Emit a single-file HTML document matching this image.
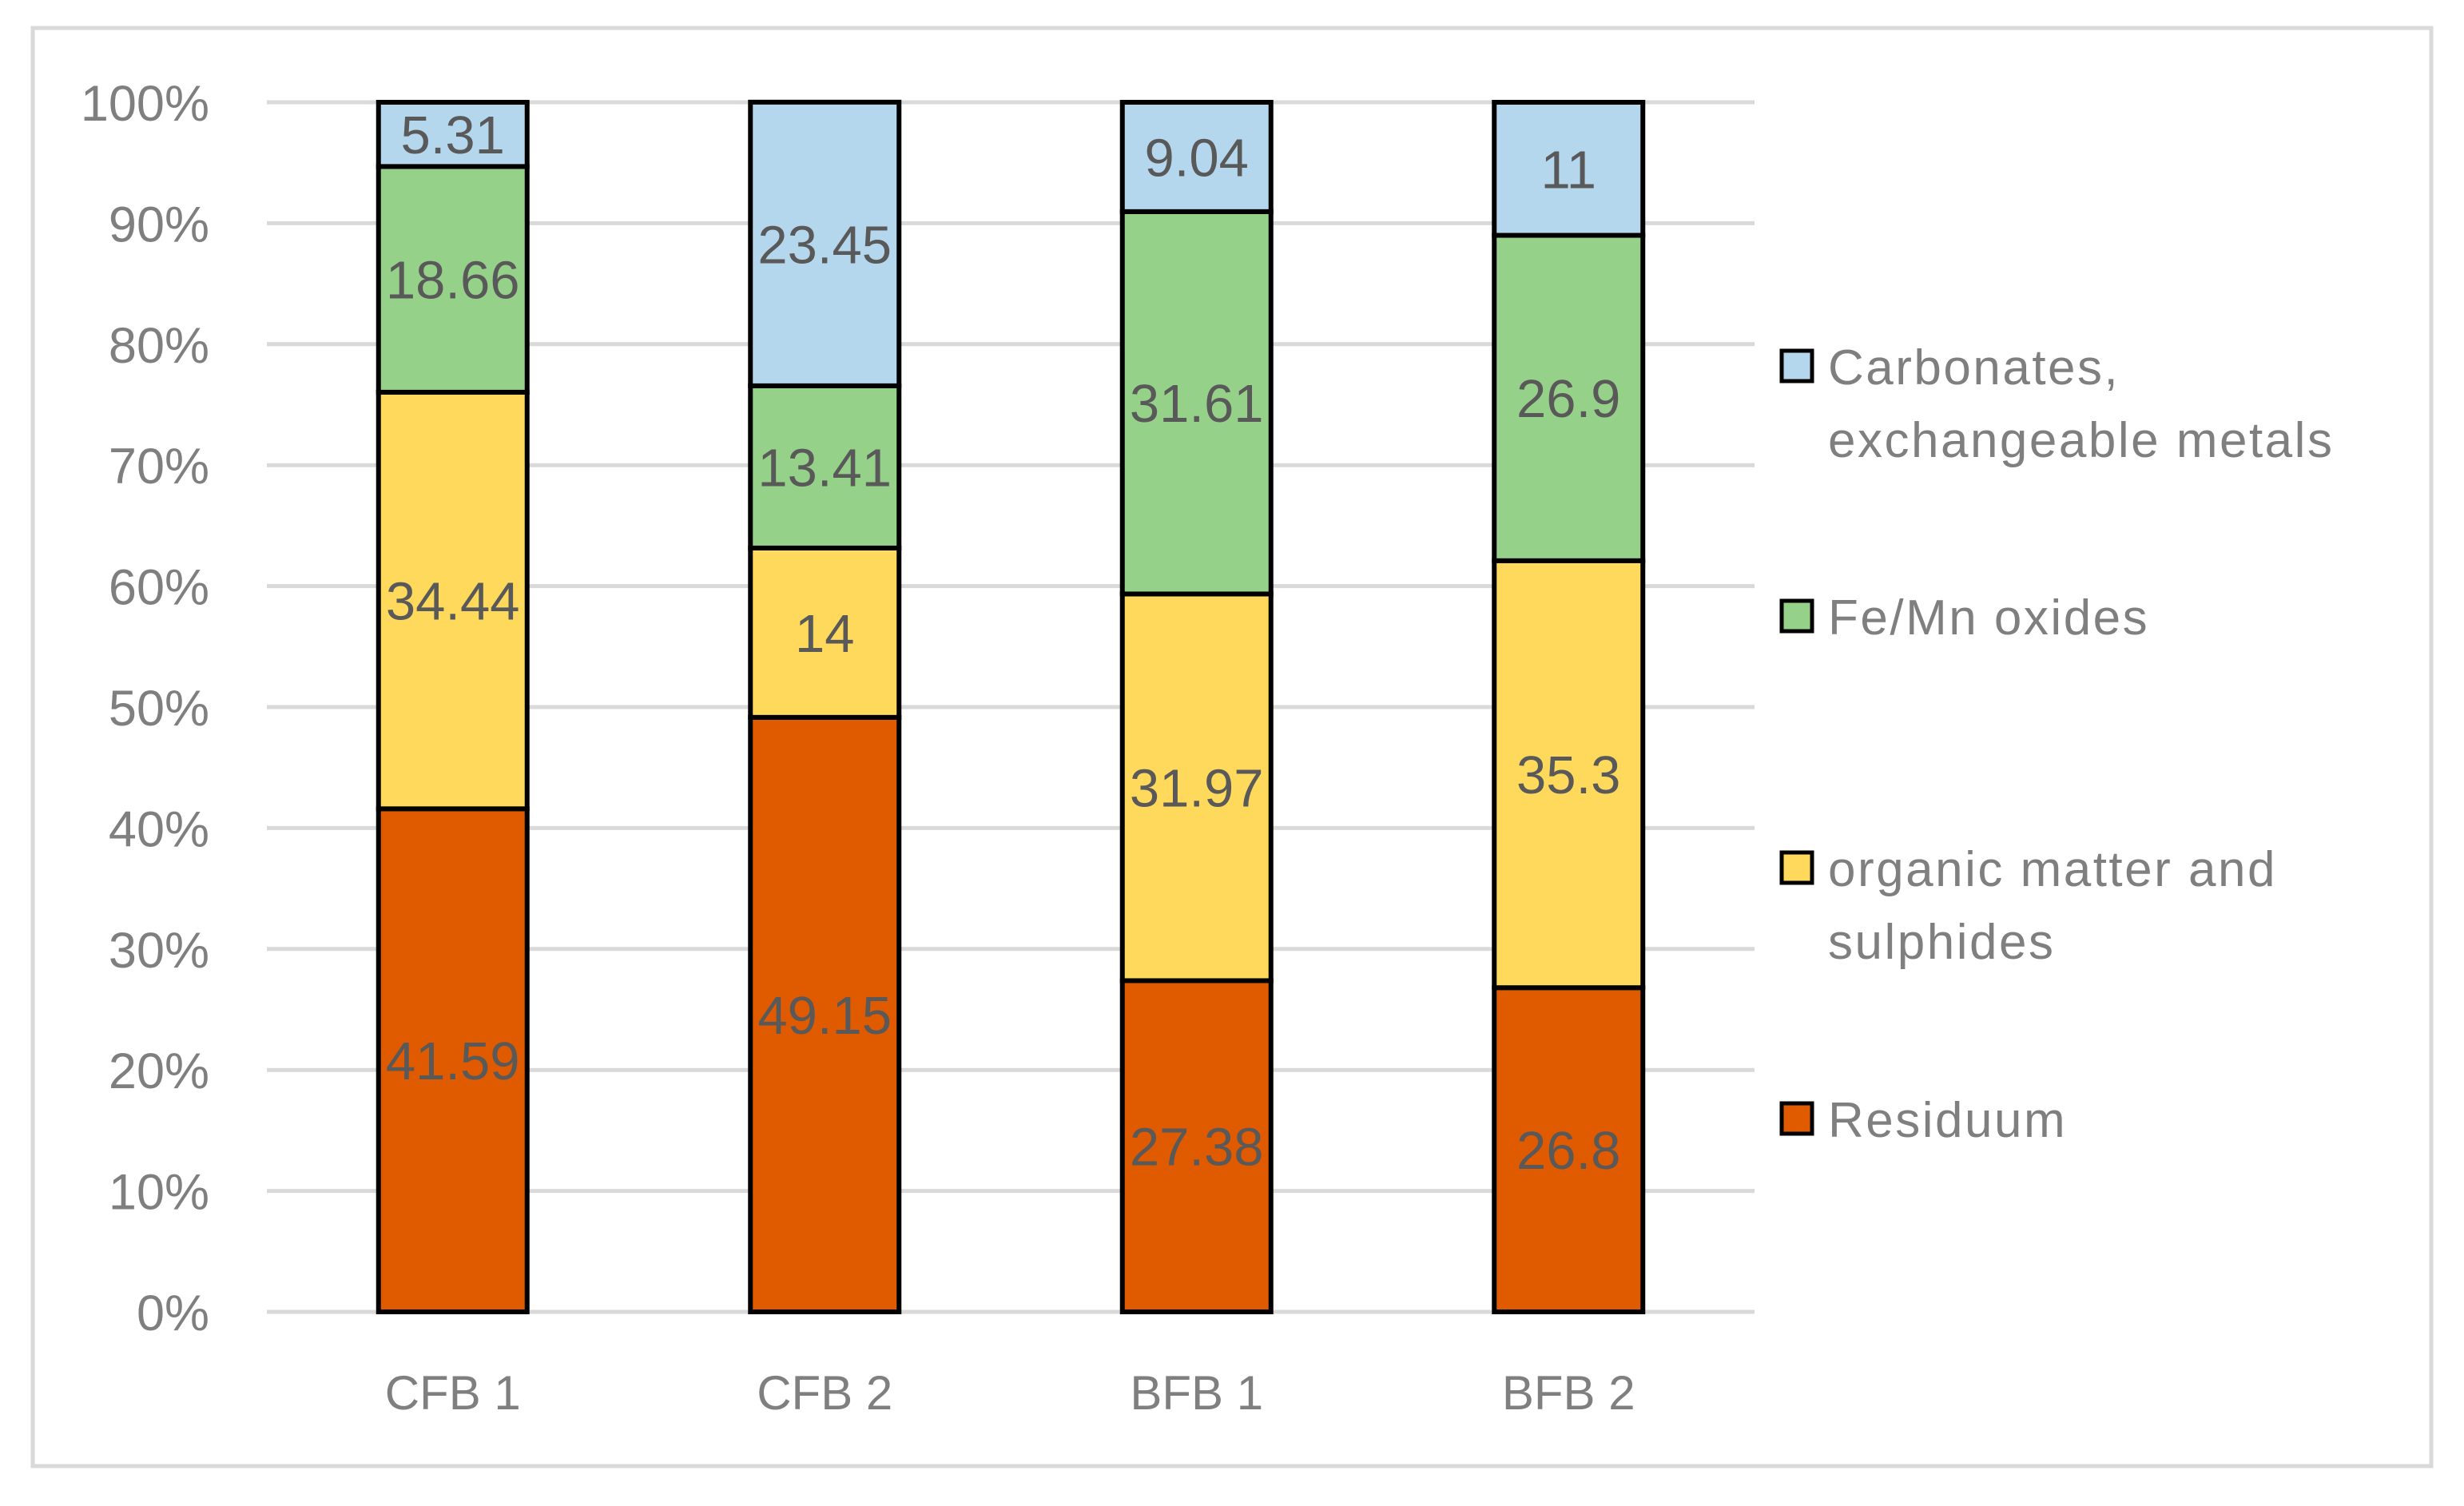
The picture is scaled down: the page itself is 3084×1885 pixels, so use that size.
<!DOCTYPE html>
<html><head><meta charset="utf-8">
<style>
html,body{margin:0;padding:0;background:#fff;}
svg{display:block;}
text{font-family:"Liberation Sans",sans-serif;}
</style></head>
<body>
<svg id="chart" width="3084" height="1885" viewBox="0 0 3084 1885" xmlns="http://www.w3.org/2000/svg">
<rect x="0" y="0" width="3084" height="1885" fill="#fff"/>
<rect x="41" y="35" width="3002" height="1800" fill="none" stroke="#d9d9d9" stroke-width="5"/>
<g id="grid"></g>
<g id="yticks"></g>
<g id="bars"></g>
<g id="xticks"></g>
<g id="legend"></g>
</svg>
<script>
const categories = ["CFB 1", "CFB 2", "BFB 1", "BFB 2"];
const residuum = [41.59, 49.15, 27.38, 26.8];
const organic = [34.44, 14, 31.97, 35.3];
const feMn = [18.66, 13.41, 31.61, 26.9];
const carbonates = [5.31, 23.45, 9.04, 11];
const yTicks = [0, 10, 20, 30, 40, 50, 60, 70, 80, 90, 100];
const seriesNames = ["Residuum", "organic matter and sulphides", "Fe/Mn oxides", "Carbonates, exchangeable metals"];

const NS = "http://www.w3.org/2000/svg";
const plotL = 334, plotR = 2196, y0 = 1642, y100 = 128;
const yScale = v => y0 - (v / 100) * (y0 - y100);
const band = (plotR - plotL) / categories.length;
const xCenter = i => plotL + band * (i + 0.5);
const barW = 186;
const colors = ["#e05a00", "#fed95b", "#96d18a", "#b4d7ee"];
const series = [residuum, organic, feMn, carbonates];

function mk(tag, attrs, parent) {
  const e = document.createElementNS(NS, tag);
  for (const k in attrs) e.setAttribute(k, attrs[k]);
  parent.appendChild(e);
  return e;
}

const grid = document.getElementById('grid');
const yt = document.getElementById('yticks');
yTicks.forEach(t => {
  const y = yScale(t);
  const l = mk('line', {x1: plotL, x2: plotR, y1: y, y2: y, stroke: '#d9d9d9', 'stroke-width': 5}, grid);
  
  
  const tx = mk('text', {x: 262, y: y + 23, 'text-anchor': 'end', 'font-size': 63, fill: '#7f7f7f'}, yt);
  tx.textContent = t + '%';
  
  
});

const bars = document.getElementById('bars');
const xt = document.getElementById('xticks');
categories.forEach((c, i) => {
  let cum = 0;
  const cx = xCenter(i);
  series.forEach((s, k) => {
    const v = s[i];
    const yTop = yScale(cum + v), yBot = yScale(cum);
    const r = mk('rect', {x: cx - barW / 2, y: yTop, width: barW, height: yBot - yTop, fill: colors[k], stroke: '#000', 'stroke-width': 6}, bars);
    
    
    cum += v;
  });
  cum = 0;
  series.forEach((s, k) => {
    const v = s[i];
    const ym = yScale(cum + v / 2);
    const t = mk('text', {x: cx, y: ym + 24, 'text-anchor': 'middle', 'font-size': 67, fill: '#595959'}, bars);
    t.textContent = String(v);
    
    
    cum += v;
  });
  const xl = mk('text', {x: cx, y: 1764, 'text-anchor': 'middle', 'font-size': 60, fill: '#7f7f7f'}, xt);
  xl.textContent = c;
  
  
});

const legend = document.getElementById('legend');
const legendItems = [
  {k: 3, y: 458, lines: ["Carbonates,", "exchangeable metals"]},
  {k: 2, y: 771, lines: ["Fe/Mn oxides"]},
  {k: 1, y: 1086, lines: ["organic matter and", "sulphides"]},
  {k: 0, y: 1400, lines: ["Residuum"]}
];
legendItems.forEach(it => {
  const g = mk('g', {}, legend);
  
  
  const sw = mk('rect', {x: 2230, y: it.y - 19, width: 38, height: 38, fill: colors[it.k], stroke: '#000', 'stroke-width': 5}, g);
  
  
  it.lines.forEach((ln, j) => {
    const t = mk('text', {x: 2288, y: it.y + 23 + j * 91, 'font-size': 62, fill: '#7f7f7f', 'letter-spacing': 2.5}, g);
    t.textContent = ln;
    
    
  });
});
</script>
</body></html>
